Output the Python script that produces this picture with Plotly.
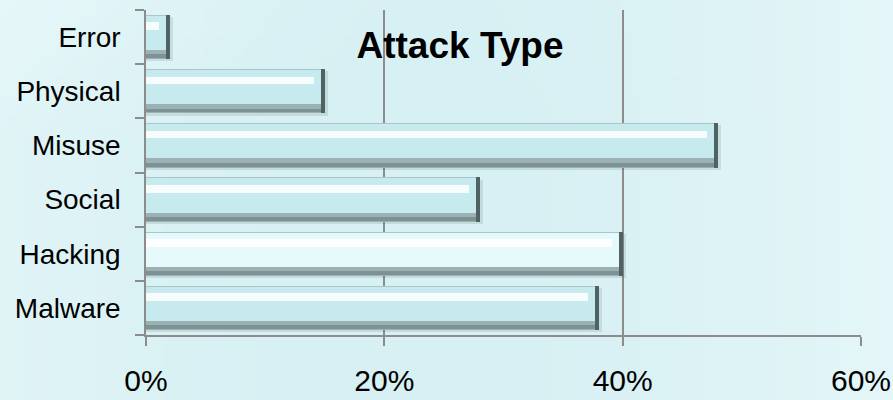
import base64
import struct
import zlib

import plotly.graph_objects as go

categories = ["Malware", "Hacking", "Social", "Misuse", "Physical", "Error"]
values = [38, 40, 28, 48, 15, 2]
x_ticks = [0, 20, 40, 60]
x_tick_labels = ["0%", "20%", "40%", "60%"]
title_text = "Attack Type"

fill_colors = ["#c6eaee", "#e6f9fb", "#c6eaee", "#c6eaee", "#c6eaee", "#c6eaee"]
inset = 0.3  # small inset (in %) so the dark right end shows
inner = [v - inset for v in values]


def gradient_png(w=90, h=40):
    light = (233, 248, 250)
    dark = (214, 240, 243)
    rows = []
    for j in range(h):
        row = bytearray([0])
        fy = j / (h - 1)
        for i in range(w):
            fx = i / (w - 1)
            d = abs(fx - 0.45) / 0.55
            t = min(1.0, 0.75 * d ** 1.5 + 0.35 * max(0.0, 0.35 - fy) / 0.35 * (1 - fx) ** 2)
            row += bytes(int(dark[k] + (light[k] - dark[k]) * t) for k in range(3))
        rows.append(bytes(row))
    raw = b"".join(rows)

    def chunk(tag, data):
        c = struct.pack(">I", len(data)) + tag + data
        return c + struct.pack(">I", zlib.crc32(tag + data) & 0xFFFFFFFF)

    png = b"\x89PNG\r\n\x1a\n" + chunk(b"IHDR", struct.pack(">IIBBBBB", w, h, 8, 2, 0, 0, 0))
    png += chunk(b"IDAT", zlib.compress(raw, 9)) + chunk(b"IEND", b"")
    return "data:image/png;base64," + base64.b64encode(png).decode()


fig = go.Figure()
# soft shadow
fig.add_trace(go.Bar(y=categories, x=[v + 0.25 for v in values], orientation="h",
                     width=0.82, offset=-0.45, marker=dict(color="rgba(60,80,80,0.13)", line_width=0),
                     hoverinfo="skip"))
# dark right end / base
fig.add_trace(go.Bar(y=categories, x=values, orientation="h",
                     width=0.82, offset=-0.41, marker=dict(color="#4f6365", line_width=0)))
# grey lower bevel
fig.add_trace(go.Bar(y=categories, x=inner, orientation="h",
                     width=0.82, offset=-0.41, marker=dict(color="#9bb1b3", line_width=0)))
# darker bottom strip
fig.add_trace(go.Bar(y=categories, x=inner, orientation="h",
                     width=0.07, offset=-0.39, marker=dict(color="#7d9294", line_width=0)))
# top edge light bevel
fig.add_trace(go.Bar(y=categories, x=inner, orientation="h",
                     width=0.65, offset=-0.24, marker=dict(color="#a9c7c9", line_width=0)))
# main fill
fig.add_trace(go.Bar(y=categories, x=inner, orientation="h",
                     width=0.63, offset=-0.24, marker=dict(color=fill_colors, line_width=0)))
# white highlight
fig.add_trace(go.Bar(y=categories, x=[v - 0.6 for v in inner], orientation="h",
                     width=0.14, offset=0.13, marker=dict(color="rgba(255,255,255,0.85)", line_width=0)))

axis_font = dict(family="Liberation Sans, Arial, sans-serif", color="#000000")

fig.update_layout(
    width=893, height=400,
    barmode="overlay", bargap=0,
    showlegend=False,
    margin=dict(l=146, r=32, t=10, b=65),
    paper_bgcolor="#e1f4f7",
    plot_bgcolor="rgba(0,0,0,0)",
    images=[dict(source=gradient_png(), xref="paper", yref="paper", x=-146 / 715, y=1 + 10 / 325,
                 sizex=893 / 715, sizey=400 / 325, sizing="stretch", xanchor="left", yanchor="top",
                 layer="below")],
    title=dict(text="<b>" + title_text + "</b>", x=(460 - 146) / 715, xref="paper",
               xanchor="center", y=1 - 45 / 400, yanchor="middle",
               font=dict(family="Liberation Sans, Arial, sans-serif", size=37, color="#000000")),
    xaxis=dict(range=[0, 60], tickvals=x_ticks, ticktext=x_tick_labels,
               showgrid=True, gridcolor="#8c8c8c", gridwidth=1.5,
               showline=True, linecolor="#8c8c8c", linewidth=1.5,
               ticks="outside", ticklen=9, tickcolor="#8c8c8c", tickwidth=1.5,
               ticklabelstandoff=9, automargin=False,
               tickfont=dict(size=30, **axis_font), zeroline=False, fixedrange=True),
    yaxis=dict(type="category", categoryorder="array", categoryarray=categories,
               range=[-0.5, 5.5], showgrid=False,
               showline=True, linecolor="#8c8c8c", linewidth=1.5,
               ticks="outside", tickson="boundaries", ticklen=9, tickcolor="#8c8c8c", tickwidth=1.5,
               ticklabelstandoff=18, automargin=False,
               tickfont=dict(size=28, **axis_font), zeroline=False, fixedrange=True),
)

fig.write_html("out.html", config={"displayModeBar": False})
